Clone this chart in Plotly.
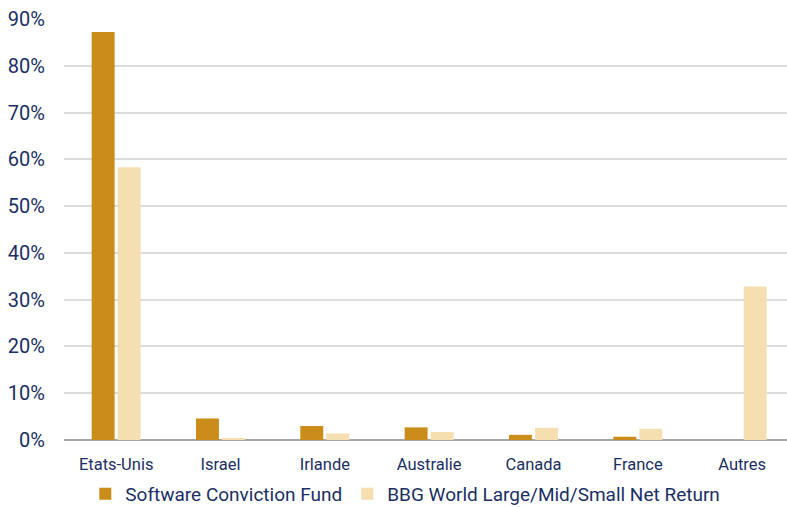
import plotly.graph_objects as go

categories = ["Etats-Unis", "Israel", "Irlande", "Australie", "Canada", "France", "Autres"]
fund_name = "Software Conviction Fund"
bench_name = "BBG World Large/Mid/Small Net Return"
fund_values = [87.2, 4.6, 3.0, 2.7, 1.1, 0.7, 0.0]
bench_values = [58.3, 0.4, 1.4, 1.7, 2.6, 2.4, 32.8]
y_ticks = [0, 10, 20, 30, 40, 50, 60, 70, 80, 90]
y_tick_labels = [f"{v}%" for v in y_ticks]

text_color = "#1B2F63"
font_family = "Roboto, Arial, sans-serif"

fig = go.Figure()
fig.add_trace(go.Bar(x=categories, y=fund_values, name=fund_name,
                     marker=dict(color="#CB8D1A", line=dict(width=0))))
fig.add_trace(go.Bar(x=categories, y=bench_values, name=bench_name,
                     marker=dict(color="#F5DFB0", line=dict(width=0))))

fig.update_layout(
    width=787, height=507,
    margin=dict(l=64, r=0, t=19, b=67, autoexpand=False),
    paper_bgcolor="white", plot_bgcolor="white",
    barmode="group", bargap=0.5, bargroupgap=0.12,
    font=dict(family=font_family, color=text_color, size=16),
    showlegend=True,
    legend=dict(orientation="h", x=0.515, xref="container", xanchor="center",
                y=0.026, yref="container", yanchor="middle",
                font=dict(size=19, color=text_color), itemwidth=30,
                traceorder="normal", bgcolor="rgba(0,0,0,0)"),
    xaxis=dict(range=[-0.5, 6.43], showgrid=False, tickfont=dict(size=16.5, color=text_color),
               showline=False, ticks="", zeroline=False, ticklabelstandoff=12),
    yaxis=dict(range=[0, 90], tickvals=y_ticks, ticktext=y_tick_labels,
               showgrid=True, gridcolor="#DCDCDC", gridwidth=1.8,
               zeroline=True, zerolinecolor="#A6A6A6", zerolinewidth=2,
               tickfont=dict(size=20, color=text_color), ticklabelstandoff=18,
               showline=False, ticks=""),
)

fig.write_html("out.html")
